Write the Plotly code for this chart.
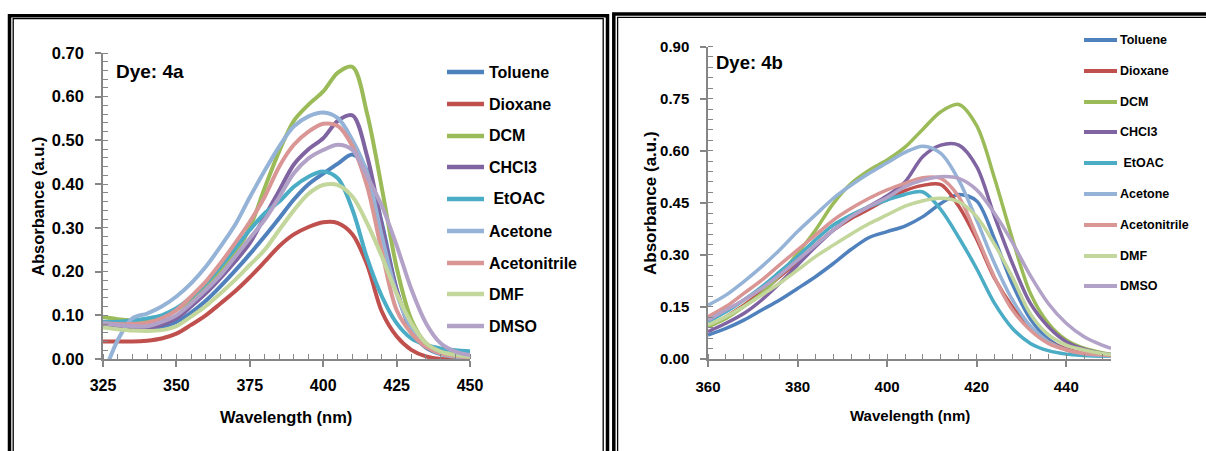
import plotly.graph_objects as go

# ---------------- data ----------------
solvents = ["Toluene", "Dioxane", "DCM", "CHCl3", "\u00a0EtOAC", "Acetone", "Acetonitrile", "DMF", "DMSO"]
colors = ["#4F81BD", "#C0504D", "#9BBB59", "#8064A2", "#4BACC6", "#95B3D7", "#D99694", "#C3D69B", "#B3A2C7"]

# Dye 4a
wl_4a = [325, 330, 335, 340, 345, 350, 355, 360, 365, 370, 375, 380, 385, 390, 395, 400, 405, 410, 415, 420, 425, 430, 435, 440, 445, 450]
a_toluene = [0.080, 0.074, 0.070, 0.070, 0.074, 0.085, 0.106, 0.133, 0.166, 0.202, 0.240, 0.280, 0.322, 0.365, 0.400, 0.424, 0.447, 0.468, 0.430, 0.310, 0.160, 0.065, 0.026, 0.011, 0.005, 0.003]
a_dioxane = [0.040, 0.040, 0.040, 0.042, 0.047, 0.058, 0.078, 0.100, 0.127, 0.155, 0.187, 0.222, 0.258, 0.285, 0.302, 0.313, 0.311, 0.285, 0.215, 0.108, 0.052, 0.021, 0.006, 0.000, 0.000, 0.000]
a_dcm = [0.096, 0.091, 0.088, 0.088, 0.095, 0.112, 0.135, 0.165, 0.200, 0.242, 0.300, 0.390, 0.475, 0.545, 0.582, 0.612, 0.655, 0.668, 0.560, 0.390, 0.210, 0.090, 0.036, 0.017, 0.010, 0.006]
a_chcl3 = [0.075, 0.072, 0.070, 0.070, 0.078, 0.093, 0.120, 0.150, 0.185, 0.223, 0.265, 0.325, 0.385, 0.445, 0.480, 0.505, 0.545, 0.557, 0.463, 0.305, 0.158, 0.066, 0.028, 0.013, 0.007, 0.004]
a_etoac = [0.085, 0.085, 0.088, 0.093, 0.100, 0.116, 0.141, 0.173, 0.211, 0.253, 0.295, 0.333, 0.360, 0.394, 0.417, 0.429, 0.413, 0.341, 0.230, 0.143, 0.082, 0.047, 0.032, 0.024, 0.020, 0.018]
a_acetone = [-0.040, 0.043, 0.093, 0.104, 0.120, 0.143, 0.173, 0.211, 0.257, 0.307, 0.370, 0.430, 0.486, 0.532, 0.555, 0.564, 0.551, 0.500, 0.425, 0.280, 0.150, 0.070, 0.030, 0.012, 0.005, 0.003]
a_acetonitrile = [0.082, 0.080, 0.080, 0.083, 0.093, 0.112, 0.143, 0.177, 0.219, 0.265, 0.314, 0.370, 0.440, 0.490, 0.520, 0.538, 0.533, 0.486, 0.394, 0.245, 0.112, 0.059, 0.028, 0.013, 0.007, 0.004]
a_dmf = [0.072, 0.068, 0.065, 0.064, 0.066, 0.075, 0.097, 0.121, 0.150, 0.181, 0.215, 0.249, 0.295, 0.340, 0.378, 0.398, 0.398, 0.371, 0.310, 0.234, 0.150, 0.082, 0.036, 0.017, 0.009, 0.005]
a_dmso = [0.082, 0.078, 0.075, 0.075, 0.085, 0.100, 0.127, 0.158, 0.192, 0.234, 0.276, 0.318, 0.370, 0.425, 0.459, 0.478, 0.490, 0.478, 0.417, 0.350, 0.260, 0.160, 0.082, 0.036, 0.017, 0.009]

# Dye 4b
wl_4b = [360, 364, 368, 372, 376, 380, 384, 388, 392, 396, 400, 404, 408, 412, 416, 420, 424, 428, 432, 436, 440, 444, 448, 450]
b_toluene = [0.069, 0.088, 0.112, 0.141, 0.170, 0.203, 0.237, 0.275, 0.316, 0.350, 0.367, 0.383, 0.410, 0.448, 0.474, 0.455, 0.345, 0.215, 0.115, 0.057, 0.027, 0.014, 0.009, 0.008]
b_dioxane = [0.093, 0.122, 0.155, 0.194, 0.237, 0.280, 0.328, 0.371, 0.405, 0.432, 0.460, 0.485, 0.500, 0.502, 0.440, 0.345, 0.232, 0.150, 0.088, 0.050, 0.029, 0.016, 0.010, 0.008]
b_dcm = [0.093, 0.117, 0.151, 0.189, 0.242, 0.304, 0.371, 0.448, 0.506, 0.544, 0.573, 0.610, 0.662, 0.712, 0.733, 0.672, 0.520, 0.345, 0.189, 0.103, 0.055, 0.031, 0.018, 0.014]
b_chcl3 = [0.079, 0.103, 0.131, 0.170, 0.218, 0.271, 0.323, 0.371, 0.410, 0.440, 0.470, 0.510, 0.583, 0.616, 0.616, 0.554, 0.410, 0.275, 0.160, 0.093, 0.050, 0.028, 0.016, 0.013]
b_etoac = [0.107, 0.136, 0.170, 0.208, 0.251, 0.295, 0.343, 0.386, 0.415, 0.439, 0.458, 0.474, 0.481, 0.430, 0.350, 0.260, 0.160, 0.088, 0.045, 0.024, 0.014, 0.010, 0.008, 0.008]
b_acetone = [0.155, 0.184, 0.223, 0.266, 0.314, 0.367, 0.415, 0.463, 0.501, 0.535, 0.565, 0.595, 0.613, 0.592, 0.515, 0.400, 0.275, 0.170, 0.095, 0.050, 0.027, 0.015, 0.010, 0.009]
b_acetonitrile = [0.122, 0.151, 0.189, 0.227, 0.271, 0.314, 0.357, 0.400, 0.434, 0.463, 0.487, 0.506, 0.522, 0.520, 0.467, 0.355, 0.235, 0.141, 0.083, 0.045, 0.026, 0.016, 0.012, 0.010]
b_dmf = [0.098, 0.122, 0.151, 0.184, 0.218, 0.256, 0.295, 0.328, 0.360, 0.390, 0.415, 0.440, 0.456, 0.463, 0.453, 0.410, 0.330, 0.235, 0.130, 0.070, 0.040, 0.026, 0.016, 0.013]
b_dmso = [0.112, 0.141, 0.170, 0.203, 0.242, 0.285, 0.328, 0.371, 0.410, 0.439, 0.465, 0.496, 0.515, 0.525, 0.520, 0.487, 0.419, 0.335, 0.240, 0.160, 0.103, 0.064, 0.040, 0.031]

dye4a = [a_toluene, a_dioxane, a_dcm, a_chcl3, a_etoac, a_acetone, a_acetonitrile, a_dmf, a_dmso]
dye4b = [b_toluene, b_dioxane, b_dcm, b_chcl3, b_etoac, b_acetone, b_acetonitrile, b_dmf, b_dmso]

# ---------------- layout helpers ----------------
W, H = 1206, 451
def px(x):
    return x / W
def py(y):
    return 1 - y / H

FONT = "Liberation Sans, Arial, sans-serif"
GRAY = "#868686"

fig = go.Figure()
for name, col, ys in zip(solvents, colors, dye4a):
    fig.add_trace(go.Scatter(x=wl_4a, y=ys, mode="lines", name=name.strip(), showlegend=False,
                             line=dict(color=col, width=4, shape="spline", smoothing=0.9),
                             xaxis="x", yaxis="y"))
for name, col, ys in zip(solvents, colors, dye4b):
    fig.add_trace(go.Scatter(x=wl_4b, y=ys, mode="lines", name=name.strip(), showlegend=False,
                             line=dict(color=col, width=3.5, shape="spline", smoothing=0.9),
                             xaxis="x2", yaxis="y2"))

def axis_common(fs):
    return dict(showline=True, linecolor=GRAY, linewidth=1.5, showgrid=False, zeroline=False,
                ticks="outside", ticklen=6, tickwidth=1.5, tickcolor=GRAY, automargin=False,
                tickfont=dict(family=FONT, size=fs, color="black", weight="bold"),
                fixedrange=True)

fig.update_layout(
    width=W, height=H, autosize=False,
    margin=dict(l=0, r=0, t=0, b=0, pad=0, autoexpand=False),
    paper_bgcolor="white", plot_bgcolor="white",
    showlegend=False,
    xaxis=dict(domain=[px(103), px(470)], range=[325, 450], tick0=325, dtick=25,
               anchor="y", ticklabelstandoff=5,
               minor=dict(dtick=5, ticks="inside", ticklen=5, tickcolor=GRAY, tickwidth=1.2),
               **axis_common(16)),
    yaxis=dict(domain=[py(359), py(53)], range=[0, 0.7], tick0=0, dtick=0.1, tickformat=".2f",
               anchor="x", ticklabelstandoff=8,
               minor=dict(dtick=0.02, ticks="inside", ticklen=5, tickcolor=GRAY, tickwidth=1.2),
               **axis_common(16.5)),
    xaxis2=dict(domain=[px(708), px(1111)], range=[360, 450], tick0=360, dtick=20,
                anchor="y2", ticklabelstandoff=7,
                minor=dict(dtick=4, ticks="inside", ticklen=5, tickcolor=GRAY, tickwidth=1.2),
                **axis_common(15)),
    yaxis2=dict(domain=[py(359), py(46.5)], range=[0, 0.9], tick0=0, dtick=0.15, tickformat=".2f",
                anchor="x2", ticklabelstandoff=8,
                minor=dict(dtick=0.03, ticks="inside", ticklen=5, tickcolor=GRAY, tickwidth=1.2),
                **axis_common(15)),
)

shapes = []
annotations = []

# frames (double borders)
shapes.append(dict(type="rect", xref="paper", yref="paper", x0=px(9.5), x1=px(607.5), y0=py(470), y1=py(15.8),
                   line=dict(color="black", width=3.5)))
shapes.append(dict(type="rect", xref="paper", yref="paper", x0=px(13.2), x1=px(603.2), y0=py(470), y1=py(18.6),
                   line=dict(color="black", width=1.3)))
shapes.append(dict(type="rect", xref="paper", yref="paper", x0=px(613.8), x1=px(1215), y0=py(470), y1=py(14),
                   line=dict(color="black", width=3.5)))
shapes.append(dict(type="rect", xref="paper", yref="paper", x0=px(617.6), x1=px(1215), y0=py(470), y1=py(17.3),
                   line=dict(color="black", width=1.3)))

# legends
rows_a = [72, 104, 136, 167, 199, 231, 263, 294, 326]
rows_b = [40, 71, 102, 132, 163, 194, 225, 256, 286]
for name, col, ra, rb in zip(solvents, colors, rows_a, rows_b):
    shapes.append(dict(type="line", xref="paper", yref="paper", x0=px(447), x1=px(484), y0=py(ra), y1=py(ra),
                       line=dict(color=col, width=4.5)))
    annotations.append(dict(text=name, xref="paper", yref="paper", x=px(487), y=py(ra), xanchor="left",
                            yanchor="middle", showarrow=False,
                            font=dict(family=FONT, size=16, color="black", weight="bold")))
    shapes.append(dict(type="line", xref="paper", yref="paper", x0=px(1084), x1=px(1117), y0=py(rb), y1=py(rb),
                       line=dict(color=col, width=4)))
    annotations.append(dict(text=name, xref="paper", yref="paper", x=px(1118), y=py(rb), xanchor="left",
                            yanchor="middle", showarrow=False,
                            font=dict(family=FONT, size=12.5, color="black", weight="bold")))

# dye labels
annotations.append(dict(text="Dye: 4a", xref="paper", yref="paper", x=px(114), y=py(71), xanchor="left",
                        yanchor="middle", showarrow=False,
                        font=dict(family=FONT, size=19, color="black", weight="bold")))
annotations.append(dict(text="Dye: 4b", xref="paper", yref="paper", x=px(714), y=py(63), xanchor="left",
                        yanchor="middle", showarrow=False,
                        font=dict(family=FONT, size=18.5, color="black", weight="bold")))

# axis titles
annotations.append(dict(text="Absorbance (a.u.)", xref="paper", yref="paper", x=px(38), y=py(207), textangle=-90,
                        xanchor="center", yanchor="middle", showarrow=False,
                        font=dict(family=FONT, size=16.5, color="black", weight="bold")))
annotations.append(dict(text="Absorbance (a.u.)", xref="paper", yref="paper", x=px(650), y=py(203), textangle=-90,
                        xanchor="center", yanchor="middle", showarrow=False,
                        font=dict(family=FONT, size=17, color="black", weight="bold")))
annotations.append(dict(text="Wavelength (nm)", xref="paper", yref="paper", x=px(286), y=py(417),
                        xanchor="center", yanchor="middle", showarrow=False,
                        font=dict(family=FONT, size=16.5, color="black", weight="bold")))
annotations.append(dict(text="Wavelength (nm)", xref="paper", yref="paper", x=px(910), y=py(415),
                        xanchor="center", yanchor="middle", showarrow=False,
                        font=dict(family=FONT, size=15, color="black", weight="bold")))

fig.update_layout(shapes=shapes, annotations=annotations)

fig.write_html("out.html", config={"displayModeBar": False},
               post_script="document.body.style.margin='0';document.body.style.overflow='hidden';")
